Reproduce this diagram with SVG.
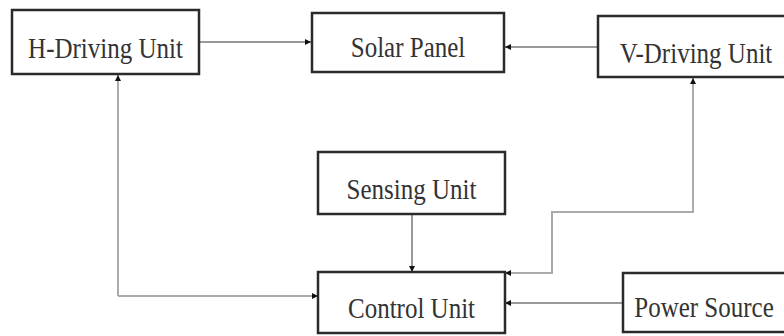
<svg xmlns="http://www.w3.org/2000/svg" width="784" height="336" viewBox="0 0 784 336">
<defs>
<marker id="ah" viewBox="0 0 10 10" refX="10" refY="5" markerWidth="6" markerHeight="6" markerUnits="userSpaceOnUse" orient="auto">
<path d="M0,0 L10,5 L0,10 Z" fill="#111"/>
</marker>
<style>
.box{fill:#fff;stroke:#2a2a2a;stroke-width:2.5}
.lbl{font-family:"Liberation Serif","Times New Roman",serif;font-size:25px;fill:#333;text-anchor:middle}
.c1{fill:none;stroke:#777;stroke-width:1.5;marker-end:url(#ah)}
.c2{fill:none;stroke:#aaa;stroke-width:2;marker-end:url(#ah)}
</style>
</defs>
<rect width="784" height="336" fill="#fff"/>
<g id="connectors">
<path class="c1" d="M199,42 H311"/>
<path class="c1" d="M598,47 H505"/>
<path class="c1" d="M412,214 V272"/>
<path class="c2" d="M118,296 H318"/>
<path class="c2" d="M118,296 V75"/>
<path class="c2" d="M552,212 H693 V78"/>
<path class="c2" d="M693,212 H552 V273 H505"/>
<path class="c1" d="M623,303 H505"/>
</g>
<g id="h-driving">
<rect class="box" x="12" y="10" width="187" height="64"/>
<text class="lbl" transform="translate(105.5,58) scale(1,1.15)">H-Driving Unit</text>
</g>
<g id="solar-panel">
<rect class="box" x="312" y="13" width="192" height="59"/>
<text class="lbl" transform="translate(408,57) scale(1,1.15)">Solar Panel</text>
</g>
<g id="v-driving">
<rect class="box" x="598" y="16" width="192" height="61"/>
<text class="lbl" transform="translate(696,63) scale(1,1.15)">V-Driving Unit</text>
</g>
<g id="sensing">
<rect class="box" x="318" y="152" width="187" height="62"/>
<text class="lbl" transform="translate(411.5,199) scale(1,1.15)">Sensing Unit</text>
</g>
<g id="control">
<rect class="box" x="318" y="272" width="187" height="61"/>
<text class="lbl" transform="translate(411.5,318) scale(1,1.15)">Control Unit</text>
</g>
<g id="power-source">
<rect class="box" x="623" y="273" width="170" height="59"/>
<text class="lbl" transform="translate(704,317) scale(1,1.15)">Power Source</text>
</g>
</svg>
